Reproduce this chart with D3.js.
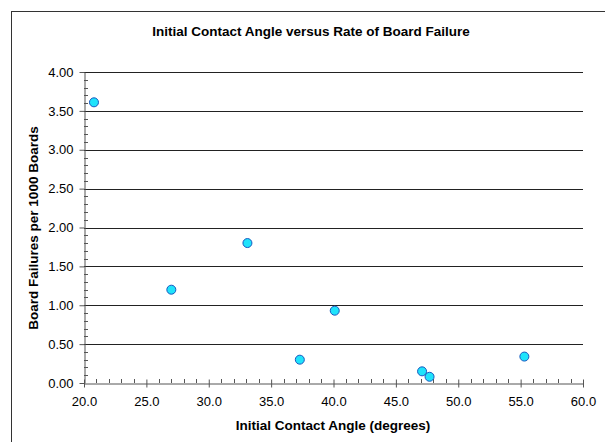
<!DOCTYPE html>
<html>
<head>
<meta charset="utf-8">
<script src="https://cdn.jsdelivr.net/npm/d3@7"></script>
<style>
  body { margin: 0; background: #fff; }
  svg { font-family: "Liberation Sans", Arial, sans-serif; }
</style>
</head>
<body>
<svg></svg>
<script>
const angles = [20.8, 27.0, 33.1, 37.3, 40.1, 47.1, 47.7, 55.3];
const failures = [3.61, 1.20, 1.80, 0.30, 0.93, 0.15, 0.08, 0.34];
const xTicks = [20, 25, 30, 35, 40, 45, 50, 55, 60];
const yTicks = [0, 0.5, 1, 1.5, 2, 2.5, 3, 3.5, 4];

const W = 605, H = 442;
const svg = d3.select("svg").attr("width", W).attr("height", H);

// chart frame (clipped on the right/bottom like the original)
svg.append("rect")
    .attr("x", 11.5).attr("y", 11.5)
    .attr("width", 620).attr("height", 460)
    .attr("fill", "none").attr("stroke", "#333").attr("stroke-width", 1);

const x = d3.scaleLinear().domain([20, 60]).range([84, 583]);
const y = d3.scaleLinear().domain([0, 4]).range([383, 72]);

// gridlines
svg.append("g").selectAll("line")
    .data(yTicks.filter(d => d > 0))
    .enter().append("line")
    .attr("x1", x(20)).attr("x2", x(60))
    .attr("y1", d => Math.round(y(d)) + 0.5).attr("y2", d => Math.round(y(d)) + 0.5)
    .attr("stroke", "#222").attr("stroke-width", 1);

// minor ticks
const minorX = d3.range(20, 60.01, 1).filter(d => d % 5 !== 0);
svg.append("g").selectAll("line")
    .data(minorX)
    .enter().append("line")
    .attr("x1", d => Math.round(x(d)) + 0.5).attr("x2", d => Math.round(x(d)) + 0.5)
    .attr("y1", y(0) - 4).attr("y2", y(0))
    .attr("stroke", "#555");

const minorY = d3.range(0, 4.001, 0.1).filter(d => Math.abs(d * 2 - Math.round(d * 2)) > 1e-6);
svg.append("g").selectAll("line")
    .data(minorY)
    .enter().append("line")
    .attr("x1", x(20)).attr("x2", x(20) + 4)
    .attr("y1", d => Math.round(y(d)) + 0.5).attr("y2", d => Math.round(y(d)) + 0.5)
    .attr("stroke", "#555");

// axes
const xAxis = svg.append("g")
    .attr("transform", `translate(0,${Math.round(y(0)) + 0.5})`)
    .call(d3.axisBottom(x).tickValues(xTicks).tickFormat(d3.format(".1f")).tickSizeInner(4).tickSizeOuter(0).tickPadding(9));
xAxis.select(".domain").attr("stroke", "#555");
xAxis.selectAll(".tick line").attr("stroke", "#555").attr("y1", -4).attr("y2", 4);
xAxis.selectAll("text").attr("font-size", 13).attr("fill", "#000");

const yAxis = svg.append("g")
    .attr("transform", `translate(${Math.round(x(20)) + 0.5},0)`)
    .call(d3.axisLeft(y).tickValues(yTicks).tickFormat(d3.format(".2f")).tickSizeInner(5).tickSizeOuter(0).tickPadding(6));
yAxis.select(".domain").attr("stroke", "#555");
yAxis.selectAll(".tick line").attr("stroke", "#555");
yAxis.selectAll("text").attr("font-size", 13).attr("fill", "#000");

// points
svg.append("g").selectAll("circle")
    .data(angles.map((a, i) => [a, failures[i]]))
    .enter().append("circle")
    .attr("cx", d => x(d[0]))
    .attr("cy", d => y(d[1]))
    .attr("r", 4.5)
    .attr("fill", "#1fe3fb")
    .attr("stroke", "#1858c0")
    .attr("stroke-width", 1);

// titles
svg.append("text")
    .attr("x", 311).attr("y", 36)
    .attr("text-anchor", "middle")
    .attr("font-size", 13.5).attr("font-weight", "bold")
    .text("Initial Contact Angle versus Rate of Board Failure");

svg.append("text")
    .attr("x", 333).attr("y", 430)
    .attr("text-anchor", "middle")
    .attr("font-size", 13.5).attr("font-weight", "bold")
    .text("Initial Contact Angle (degrees)");

svg.append("text")
    .attr("transform", "translate(38,228) rotate(-90)")
    .attr("text-anchor", "middle")
    .attr("font-size", 13.5).attr("font-weight", "bold")
    .text("Board Failures per 1000 Boards");
</script>
</body>
</html>
